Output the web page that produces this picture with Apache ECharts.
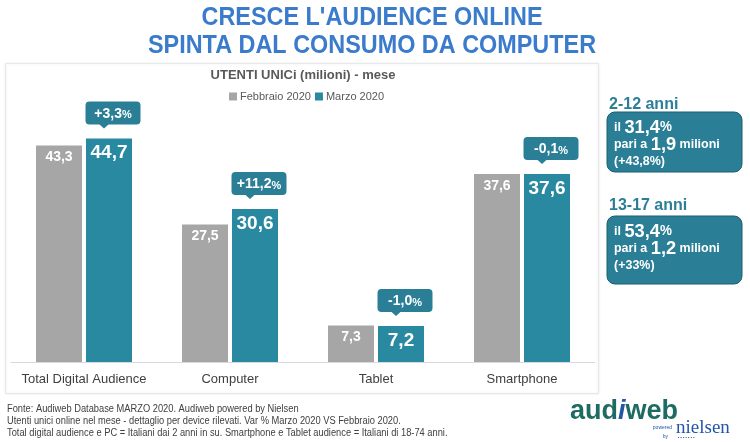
<!DOCTYPE html>
<html>
<head>
<meta charset="utf-8">
<script src="https://cdn.jsdelivr.net/npm/echarts@6/dist/echarts.min.js"></script>
<style>
html,body{margin:0;padding:0;background:#fff;}
#c{width:750px;height:442px;}
</style>
</head>
<body>
<div id="c"></div>
<script>
const categories = ['Total Digital Audience', 'Computer', 'Tablet', 'Smartphone'];
const febbraio = [43.3, 27.5, 7.3, 37.6];
const marzo = [44.7, 30.6, 7.2, 37.6];
const variazioni = ['+3,3', '+11,2', '-1,0', '-0,1'];
const seriesNames = ['Febbraio 2020', 'Marzo 2020'];

const GRAY = '#A6A6A6';
const TEAL = '#2889A0';
const CALLOUT = '#2A7F97';
const BOX = '#2A7E95';
const SANS = '"Liberation Sans", Arial, sans-serif';

const fmt = v => v.toFixed(1).replace('.', ',');

const chart = echarts.init(document.getElementById('c'), null, {renderer: 'canvas'});

const BAR_W = 46;
const BAR_GAP_PX = 4;
const TEAL_OFF = (BAR_W + BAR_GAP_PX) / 2;

function calloutItem(params, api) {
  const idx = api.value(0);
  const v = api.value(1);
  const label = variazioni[idx];
  const p = api.coord([idx, v]);
  const cx = p[0] + TEAL_OFF;
  const tipX = cx - 5;
  const tipY = p[1] - 10;
  const boxBottom = p[1] - 14;
  const boxH = 23, boxW = 55;
  const bx = cx + 4 - boxW / 2;
  const by = boxBottom - boxH;
  return {
    type: 'group',
    children: [
      {type: 'rect', shape: {x: bx, y: by, width: boxW, height: boxH, r: 4}, style: {fill: CALLOUT}},
      {type: 'polygon', shape: {points: [[tipX - 5, boxBottom - 0.5], [tipX + 5, boxBottom - 0.5], [tipX, tipY]]}, style: {fill: CALLOUT}},
      {type: 'text', x: bx + boxW / 2, y: by + boxH / 2 + 1, style: {
        text: '{a|' + label + '}{b|%}',
        align: 'center', verticalAlign: 'middle',
        rich: {
          a: {fontSize: 14, fontWeight: 'bold', fill: '#fff', fontFamily: SANS},
          b: {fontSize: 11, fontWeight: 'bold', fill: '#fff', fontFamily: SANS, padding: [2, 0, 0, 0]}
        }
      }}
    ]
  };
}

function ageBox(y, h, pct, mil, varPct) {
  return [
    {type: 'rect', shape: {x: 607, y: y, width: 135, height: h, r: 8},
     style: {fill: BOX, stroke: '#1C5E70', lineWidth: 1}},
    {type: 'text', x: 614, y: y + 7, scaleX: 0.96, style: {
      text: '{s|il }{l|' + pct + '}{m|%}\n{s|pari a }{l|' + mil + '}{s| milioni}\n{s|(' + varPct + ')}',
      rich: {
        s: {fontSize: 13, fontWeight: 'bold', fill: '#fff', fontFamily: SANS, lineHeight: 17},
        l: {fontSize: 19, fontWeight: 'bold', fill: '#fff', fontFamily: SANS, lineHeight: 17},
        m: {fontSize: 14, fontWeight: 'bold', fill: '#fff', fontFamily: SANS, lineHeight: 17}
      }
    }}
  ];
}

const option = {
  backgroundColor: '#fff',
  animation: false,
  grid: {left: 11, right: 155, top: 112, bottom: 80, containLabel: false},
  legend: {
    data: seriesNames,
    left: 229, top: 91, padding: 0,
    itemWidth: 8, itemHeight: 8, itemGap: 4,
    icon: 'rect',
    textStyle: {fontSize: 11, color: '#595959', fontFamily: SANS, padding: [0, 0, 0, -2]}
  },
  xAxis: {
    type: 'category',
    data: categories,
    axisLine: {lineStyle: {color: '#D9D9D9', width: 1}},
    axisTick: {show: false},
    axisLabel: {interval: 0, fontSize: 13, color: '#404040', fontFamily: SANS, margin: 11}
  },
  yAxis: {
    type: 'value', min: 0, max: 50, show: false,
    splitLine: {show: false}
  },
  series: [
    {
      name: seriesNames[0], type: 'bar', data: febbraio,
      barWidth: BAR_W, barGap: (BAR_GAP_PX / BAR_W * 100) + '%',
      itemStyle: {color: GRAY},
      label: {show: true, position: 'insideTop', distance: 5, formatter: p => fmt(p.value),
        fontSize: 14, fontWeight: 'bold', color: '#fff', fontFamily: SANS}
    },
    {
      name: seriesNames[1], type: 'bar', data: marzo,
      barWidth: BAR_W,
      itemStyle: {color: TEAL},
      label: {show: true, position: 'insideTop', distance: 5, formatter: p => fmt(p.value),
        fontSize: 19, fontWeight: 'bold', color: '#fff', fontFamily: SANS}
    },
    {
      type: 'custom', name: 'var',
      data: marzo.map((v, i) => [i, v]),
      renderItem: calloutItem,
      z: 5, silent: true
    }
  ],
  graphic: [
    {type: 'rect', z: -1, shape: {x: 5.5, y: 63.5, width: 593, height: 330},
     style: {fill: '#fff', stroke: '#E8E8E8', lineWidth: 1, shadowBlur: 3, shadowColor: 'rgba(0,0,0,0.08)'}},
    {type: 'text', x: 372, y: 18, scaleX: 0.9, style: {text: "CRESCE L'AUDIENCE ONLINE", align: 'center', verticalAlign: 'middle',
      fontSize: 26, fontWeight: 'bold', fill: '#3A7BCC', fontFamily: SANS}},
    {type: 'text', x: 372, y: 46, scaleX: 0.9, style: {text: 'SPINTA DAL CONSUMO DA COMPUTER', align: 'center', verticalAlign: 'middle',
      fontSize: 26, fontWeight: 'bold', fill: '#3A7BCC', fontFamily: SANS}},
    {type: 'text', x: 303, y: 75, style: {text: 'UTENTI UNICi (milioni) - mese', align: 'center', verticalAlign: 'middle',
      fontSize: 13, fontWeight: 'bold', fill: '#595959', fontFamily: SANS}},
    {type: 'text', x: 609, y: 105, style: {text: '2-12 anni', verticalAlign: 'middle',
      fontSize: 16, fontWeight: 'bold', fill: '#2A7F97', fontFamily: SANS}},
    ...ageBox(112, 60, '31,4', '1,9', '+43,8%'),
    {type: 'text', x: 609, y: 206, style: {text: '13-17 anni', verticalAlign: 'middle',
      fontSize: 16, fontWeight: 'bold', fill: '#2A7F97', fontFamily: SANS}},
    ...ageBox(216, 68, '53,4', '1,2', '+33%'),
    {type: 'text', x: 7, y: 403, scaleX: 0.93, style: {
      text: 'Fonte: Audiweb Database MARZO 2020. Audiweb powered by Nielsen\nUtenti unici online nel mese - dettaglio per device rilevati. Var % Marzo 2020 VS Febbraio 2020.\nTotal digital audience e PC = Italiani dai 2 anni in su. Smartphone e Tablet audience = Italiani di 18-74 anni.',
      fontSize: 10, lineHeight: 12, fill: '#404040', fontFamily: SANS}},
    {type: 'text', x: 570, y: 412, style: {
      text: '{a|aud}{i|i}{a|web}', verticalAlign: 'middle',
      rich: {
        a: {fontSize: 27, fontWeight: 'bold', fill: '#1E6B62', fontFamily: SANS},
        i: {fontSize: 27, fontWeight: 'bold', fontStyle: 'italic', fill: '#2456A8', fontFamily: SANS}
      }
    }},
    {type: 'text', x: 672, y: 428, style: {text: 'powered', align: 'right', verticalAlign: 'middle', fontSize: 5, fill: '#2456A8', fontFamily: SANS}},
    {type: 'text', x: 668, y: 437, style: {text: 'by', align: 'right', verticalAlign: 'middle', fontSize: 5, fill: '#2456A8', fontFamily: SANS}},
    {type: 'text', x: 676, y: 428, style: {text: 'nielsen', verticalAlign: 'middle', fontSize: 19, fill: '#2456A8', fontFamily: '"Liberation Serif", serif'}},
    {type: 'text', x: 678, y: 438, style: {text: '▪ ▪ ▪ ▪ ▪ ▪ ▪', verticalAlign: 'middle', fontSize: 4, fill: '#2456A8', fontFamily: SANS}}
  ]
};

chart.setOption(option);
</script>
</body>
</html>
